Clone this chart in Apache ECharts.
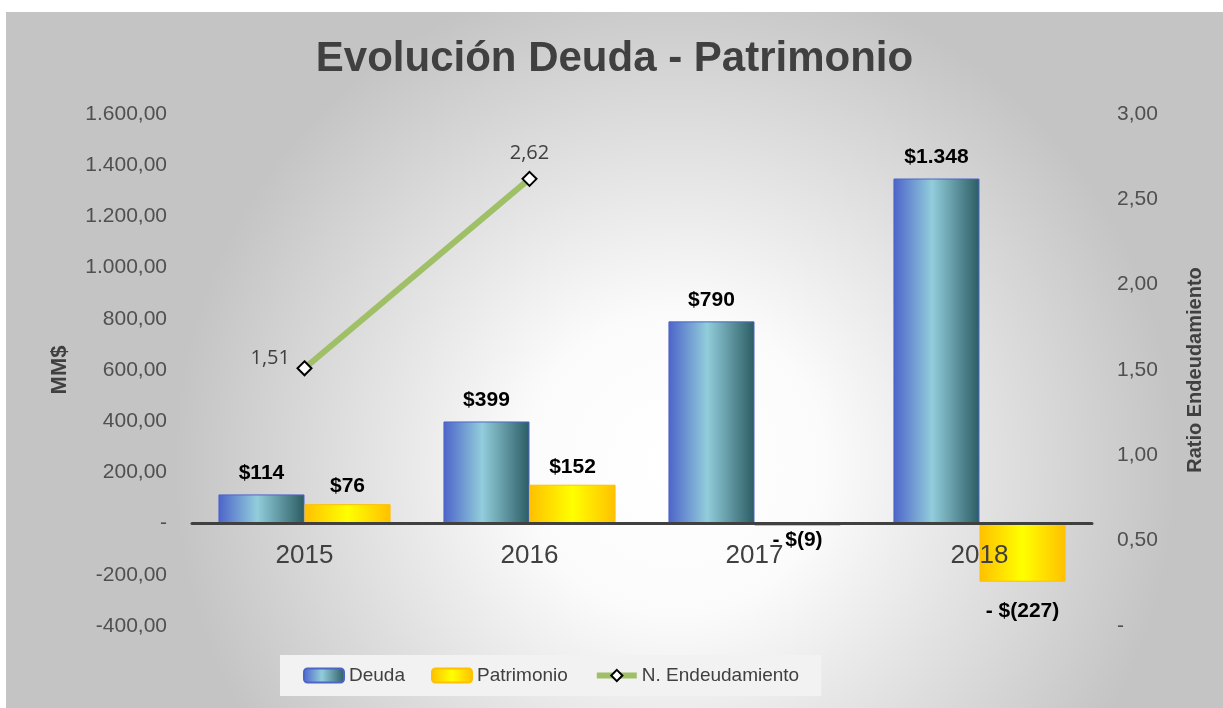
<!DOCTYPE html>
<html>
<head>
<meta charset="utf-8">
<script src="https://cdn.jsdelivr.net/npm/echarts@6/dist/echarts.min.js"></script>
<style>
  html, body { margin: 0; padding: 0; background: #fff; }
  #chart { position: absolute; left: 6px; top: 12px; width: 1217px; height: 696px; }
</style>
</head>
<body>
<div id="chart"></div>
<script>
// datos
var years = ['2015', '2016', '2017', '2018'];
var deuda = [114, 399, 790, 1348];
var patrimonio = [76, 152, -9, -227];
var endeudamiento = [1.51, 2.62, null, null];

var font = 'Arial, "Liberation Sans", sans-serif';
var gris = '#404040';

// 1.348 / 1.600,00 / -200,00
function miles(n) {
	return String(n).replace(/\B(?=(\d{3})+(?!\d))/g, '.');
}
function fmtEje(v) {
	if (v === 0) { return '-'; }
	var neg = v < 0;
	var s = miles(Math.abs(Math.round(v))) + ',00';
	return (neg ? '-' : '') + s;
}
function fmtBarra(p) {
	var v = p.value;
	if (v < 0) { return '- $(' + miles(-v) + ')'; }
	return '$' + miles(v);
}

var azul = new echarts.graphic.LinearGradient(0, 0, 1, 0, [
	{ offset: 0, color: '#4d64c9' },
	{ offset: 0.45, color: '#92cddb' },
	{ offset: 1, color: '#2b5c63' }
]);
var amarillo = new echarts.graphic.LinearGradient(0, 0, 1, 0, [
	{ offset: 0, color: '#ffc000' },
	{ offset: 0.5, color: '#ffff00' },
	{ offset: 1, color: '#ffc000' }
]);

var patData = patrimonio.map(function (v) {
	if (v >= 0) { return v; }
	return { value: v, label: { position: 'bottom', distance: v < -50 ? 19 : 4 } };
});

var chart = echarts.init(document.getElementById('chart'));
chart.setOption({
	backgroundColor: new echarts.graphic.RadialGradient(0.55, 0.65, 0.72, [
		{ offset: 0, color: '#ffffff' },
		{ offset: 0.3, color: '#fbfbfb' },
		{ offset: 1, color: '#c4c4c4' }
	]),
	title: {
		text: 'Evolución Deuda - Patrimonio',
		left: 'center',
		top: 21,
		textStyle: { fontFamily: font, fontSize: 42, fontWeight: 'bold', color: gris }
	},
	legend: {
		left: 274,
		top: 643,
		padding: [11, 22, 11, 23],
		backgroundColor: '#f2f2f2',
		itemWidth: 40,
		itemHeight: 14,
		itemGap: 26,
		textStyle: { fontFamily: font, fontSize: 19, color: gris },
		data: [
			'Deuda',
			'Patrimonio',
			{ name: 'N. Endeudamiento', itemStyle: { borderWidth: 2 }, lineStyle: { width: 6 } }
		]
	},
	grid: { left: 186, right: 131, top: 102, bottom: 82 },
	xAxis: {
		type: 'category',
		data: years,
		z: 10,
		axisLine: { onZero: true, onZeroAxisIndex: 0, lineStyle: { color: gris, width: 3 } },
		axisTick: { show: false },
		// etiquetas justo debajo de la linea del cero
		axisLabel: { fontFamily: font, fontSize: 26, color: gris, margin: -83 }
	},
	yAxis: [
		{
			type: 'value',
			min: -400,
			max: 1600,
			interval: 200,
			name: 'MM$',
			nameLocation: 'middle',
			nameRotate: 90,
			nameGap: 121,
			nameTextStyle: { fontFamily: font, fontSize: 22, fontWeight: 'bold', color: gris },
			splitLine: { show: false },
			axisLine: { show: false },
			axisTick: { show: false },
			axisLabel: { fontFamily: font, fontSize: 21, color: '#505050', margin: 25, formatter: fmtEje }
		},
		{
			type: 'value',
			min: 0,
			max: 3,
			interval: 0.5,
			name: 'Ratio Endeudamiento',
			nameLocation: 'middle',
			nameRotate: 90,
			nameGap: 93,
			nameTextStyle: { fontFamily: font, fontSize: 20, fontWeight: 'bold', color: gris },
			splitLine: { show: false },
			axisLine: { show: false },
			axisTick: { show: false },
			axisLabel: {
				fontFamily: font, fontSize: 21, color: '#505050', margin: 25,
				formatter: function (v) { return v === 0 ? '-' : v.toFixed(2).replace('.', ','); }
			}
		}
	],
	series: [
		{
			name: 'Deuda',
			type: 'bar',
			data: deuda,
			barGap: '0%',
			barCategoryGap: '23.5%',
			itemStyle: { color: azul, borderColor: '#4d64c9', borderWidth: 1 },
			label: {
				show: true, position: 'top', distance: 11, formatter: fmtBarra,
				fontFamily: font, fontSize: 21, fontWeight: 'bold', color: '#000'
			}
		},
		{
			name: 'Patrimonio',
			type: 'bar',
			data: patData,
			itemStyle: { color: amarillo, borderColor: '#ffc000', borderWidth: 1 },
			label: {
				show: true, position: 'top', distance: 7, formatter: fmtBarra,
				fontFamily: font, fontSize: 21, fontWeight: 'bold', color: '#000'
			}
		},
		{
			name: 'N. Endeudamiento',
			type: 'line',
			yAxisIndex: 1,
			data: endeudamiento,
			color: '#9bbb59',
			lineStyle: { color: '#9fc066', width: 6 },
			symbol: 'diamond',
			symbolSize: 14,
			itemStyle: { color: '#ffffff', borderColor: '#000000', borderWidth: 2 },
			z: 5,
			label: {
				show: true,
				position: 'top',
				distance: 8,
				fontFamily: '"Open Sans", "Liberation Sans", sans-serif',
				fontSize: 20,
				color: gris,
				formatter: function (p) { return p.value.toFixed(2).replace('.', ','); }
			},
			labelLayout: function (params) {
				if (params.dataIndex === 0) {
					return { x: params.rect.x - 46, y: params.rect.y - 12 };
				}
				return {};
			}
		}
	]
});
</script>
</body>
</html>
